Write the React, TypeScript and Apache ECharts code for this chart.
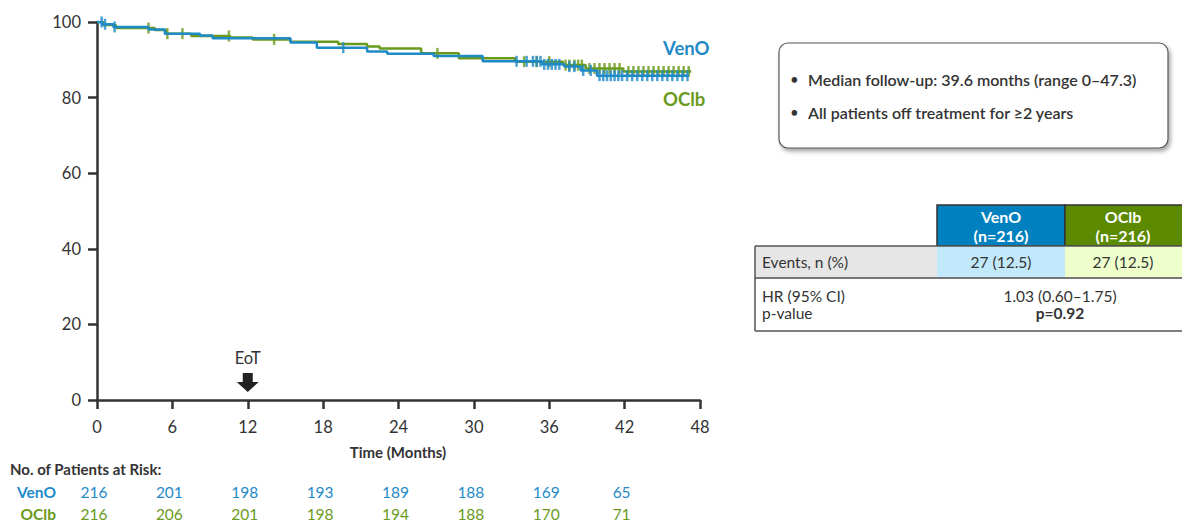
import React, { useEffect, useRef } from "react";
import * as echarts from "echarts";

const FONT = 'Lato, "Open Sans", sans-serif';
const BLUE = "#1f8ac8";
const GREEN = "#6a9a1c";
const TXT = "#333333";

// Kaplan–Meier step points [month, % event-free]
const venoCurve: [number, number][] = [
  [0, 100], [0.4, 99.4], [1.3, 98.7], [4.1, 98.0], [5.4, 96.9], [8.2, 96.4], [9.2, 95.7],
  [15.4, 94.6], [17.5, 93.2], [21.5, 92.2], [23.1, 91.6], [26.8, 91.0], [30.7, 89.6],
  [35.4, 88.8], [37.2, 88.2], [38.5, 87.2], [39.8, 85.8], [47.1, 85.8],
];
const oclbCurve: [number, number][] = [
  [0, 100], [0.5, 99.2], [1.5, 98.4], [4.6, 97.9], [5.5, 96.9], [7.5, 96.3], [10.6, 95.9],
  [12.4, 95.4], [15.4, 94.8], [19.2, 94.2], [21.5, 93.5], [22.5, 93.0], [25.8, 91.7],
  [28.8, 90.4], [33.3, 89.5], [37.1, 88.6], [38.9, 87.7], [41.9, 86.9], [47.3, 86.9],
];

// censoring times (months)
const venoCensor = [
  0.37, 0.64, 1.4, 19.6, 33.4, 34.2, 34.7, 35.0, 35.3, 35.6, 35.9, 36.2, 36.5, 36.8, 37.6,
  38.0, 38.7, 39.3, 40.0, 40.3, 40.6, 40.9, 41.2, 41.5, 41.8, 42.2, 42.6, 43.0, 43.4, 43.8,
  44.2, 44.6, 45.0, 45.4, 45.8, 46.2, 46.6, 47.0,
];
const oclbCensor = [
  4.1, 5.6, 6.8, 10.5, 14.1, 27.1, 34.0, 35.0, 36.0, 37.3, 37.6, 38.0, 38.3, 38.6, 39.2,
  39.6, 40.0, 40.4, 40.8, 41.2, 41.6, 42.3, 42.7, 43.1, 43.5, 43.9, 44.3, 44.7, 45.1, 45.5,
  45.9, 46.3, 46.7, 47.1,
];

const riskMonths = [0, 6, 12, 18, 24, 30, 36, 42];
const venoRisk = [216, 201, 198, 193, 189, 188, 169, 65];
const oclbRisk = [216, 206, 201, 198, 194, 188, 170, 71];
const eotMonth = 12;

function stepAt(curve: [number, number][], t: number) {
  let v = curve[0][1];
  for (const [x, y] of curve) if (x <= t) v = y;
  return v;
}

export default function App() {
  const ref = useRef<HTMLDivElement>(null);
  useEffect(() => {
    const chart = echarts.init(ref.current!, undefined, { renderer: "svg" });
    const axisCommon = {
      axisLine: { show: true, lineStyle: { color: TXT, width: 2.5 } },
      axisTick: { show: true, length: 9, lineStyle: { color: TXT, width: 2.5 } },
      splitLine: { show: false },
      axisLabel: { color: TXT, fontFamily: FONT, fontSize: 16.5 },
    };
    chart.setOption({
      animation: false,
      grid: { left: 97, right: 482, top: 22, bottom: 124 },
      xAxis: {
        type: "value", min: 0, max: 48, interval: 6,
        ...axisCommon,
        axisLabel: { ...axisCommon.axisLabel, margin: 18 },
      },
      yAxis: {
        type: "value", min: 0, max: 100, interval: 20,
        ...axisCommon,
        axisLabel: { ...axisCommon.axisLabel, margin: 16 },
      },
      series: [
        {
          name: "OClb", type: "line", step: "end", data: oclbCurve, showSymbol: false,
          lineStyle: { color: GREEN, width: 2.5 }, z: 2,
        },
        {
          name: "OClb censor", type: "scatter", symbol: "rect", symbolSize: [2.5, 11],
          data: oclbCensor.map((t) => [t, stepAt(oclbCurve, t)]),
          itemStyle: { color: GREEN }, z: 2,
        },
        {
          name: "VenO", type: "line", step: "end", data: venoCurve, showSymbol: false,
          lineStyle: { color: BLUE, width: 2.5 }, z: 3,
        },
        {
          name: "VenO censor", type: "scatter", symbol: "rect", symbolSize: [2.5, 11],
          data: venoCensor.map((t) => [t, stepAt(venoCurve, t)]),
          itemStyle: { color: BLUE }, z: 3,
        },
      ],
    });

    const px = (m: number) => chart.convertToPixel({ xAxisIndex: 0 }, m) as number;
    const t = (text: string, x: number, y: number, o: any = {}) => ({
      type: "text", z: 10,
      style: {
        text, x, y, fill: o.fill || TXT, fontFamily: FONT, fontSize: o.size || 15,
        fontWeight: o.weight || "normal", align: o.align || "left", verticalAlign: "middle",
      },
    });
    const els: any[] = [];
    els.push(t("Time (Months)", 398, 452, { weight: "bold", size: 15, align: "center" }));
    els.push(t("VenO", 663, 48, { weight: "bold", size: 18.5, fill: BLUE }));
    els.push(t("OClb", 663, 99, { weight: "bold", size: 18.5, fill: GREEN }));
    const ex = px(eotMonth);
    els.push(t("EoT", ex, 358, { size: 16.5, align: "center" }));
    els.push({
      type: "polygon", z: 10,
      shape: { points: [[ex - 5, 373], [ex + 5, 373], [ex + 5, 382], [ex + 11, 382], [ex, 392], [ex - 11, 382], [ex - 5, 382]] },
      style: { fill: "#222" },
    });
    els.push(t("No. of Patients at Risk:", 10, 469, { weight: "bold", size: 15 }));
    els.push(t("VenO", 56, 492, { weight: "bold", size: 15.5, fill: BLUE, align: "right" }));
    els.push(t("OClb", 56, 514, { weight: "bold", size: 15.5, fill: GREEN, align: "right" }));
    riskMonths.forEach((m, i) => {
      els.push(t(String(venoRisk[i]), px(m) - 3, 492, { size: 15.5, fill: BLUE, align: "center" }));
      els.push(t(String(oclbRisk[i]), px(m) - 3, 514, { size: 15.5, fill: GREEN, align: "center" }));
    });
    els.push({
      type: "rect", z: 5,
      shape: { x: 779, y: 43, width: 389, height: 105, r: 9 },
      style: {
        fill: "#fff", stroke: "#555", lineWidth: 1.2,
        shadowBlur: 4, shadowOffsetX: 2, shadowOffsetY: 3, shadowColor: "rgba(0,0,0,0.35)",
      },
    });
    els.push(t("•", 790, 79, { size: 15 }));
    els.push(t("Median follow-up: 39.6 months (range 0–47.3)", 808, 79, { size: 16, weight: 600 }));
    els.push(t("•", 790, 112, { size: 15 }));
    els.push(t("All patients off treatment for ≥2 years", 808, 112, { size: 16, weight: 600 }));
    const rect = (x: number, y: number, w: number, h: number, fill: string, stroke?: string) => ({
      type: "rect", z: 5, shape: { x, y, width: w, height: h },
      style: { fill, stroke: stroke || null, lineWidth: stroke ? 1.5 : 0 },
    });
    const line = (x1: number, y1: number, x2: number, y2: number, c: string, w: number) => ({
      type: "line", z: 6, shape: { x1, y1, x2, y2 }, style: { stroke: c, lineWidth: w },
    });
    els.push(rect(937, 205, 128, 41, "#0080bf", "#333"));
    els.push(rect(1065, 205, 130, 41, "#5b8a00", "#333"));
    els.push(rect(755, 246, 182, 32, "#e6e6e6"));
    els.push(rect(937, 246, 128, 32, "#c2e9fb"));
    els.push(rect(1065, 246, 117, 32, "#efffcc"));
    els.push(line(755, 246, 1182, 246, "#555", 1.5));
    els.push(line(755, 278, 1182, 278, "#777", 2));
    els.push(line(755, 331, 1182, 331, "#555", 1.5));
    els.push(line(755, 246, 755, 331, "#555", 1.5));
    const hs = 16;
    els.push(t("VenO", 1001, 216, { size: hs, weight: "bold", fill: "#fff", align: "center" }));
    els.push(t("(n=216)", 1001, 235, { size: hs, weight: "bold", fill: "#fff", align: "center" }));
    els.push(t("OClb", 1123, 216, { size: hs, weight: "bold", fill: "#fff", align: "center" }));
    els.push(t("(n=216)", 1123, 235, { size: hs, weight: "bold", fill: "#fff", align: "center" }));
    const bs = 15.5;
    els.push(t("Events, n (%)", 762, 262, { size: bs }));
    els.push(t("27 (12.5)", 1001, 262, { size: bs, align: "center" }));
    els.push(t("27 (12.5)", 1123, 262, { size: bs, align: "center" }));
    els.push(t("HR (95% CI)", 762, 296, { size: bs }));
    els.push(t("p-value", 762, 313, { size: bs }));
    els.push(t("1.03 (0.60–1.75)", 1060, 296, { size: bs, align: "center" }));
    els.push(t("p=0.92", 1060, 313, { size: bs, weight: "bold", align: "center" }));

    chart.setOption({ graphic: { elements: els } });
    return () => chart.dispose();
  }, []);
  return (
    <div
      ref={ref}
      style={{ position: "absolute", left: 0, top: 0, width: 1182, height: 524, background: "#fff" }}
    />
  );
}
